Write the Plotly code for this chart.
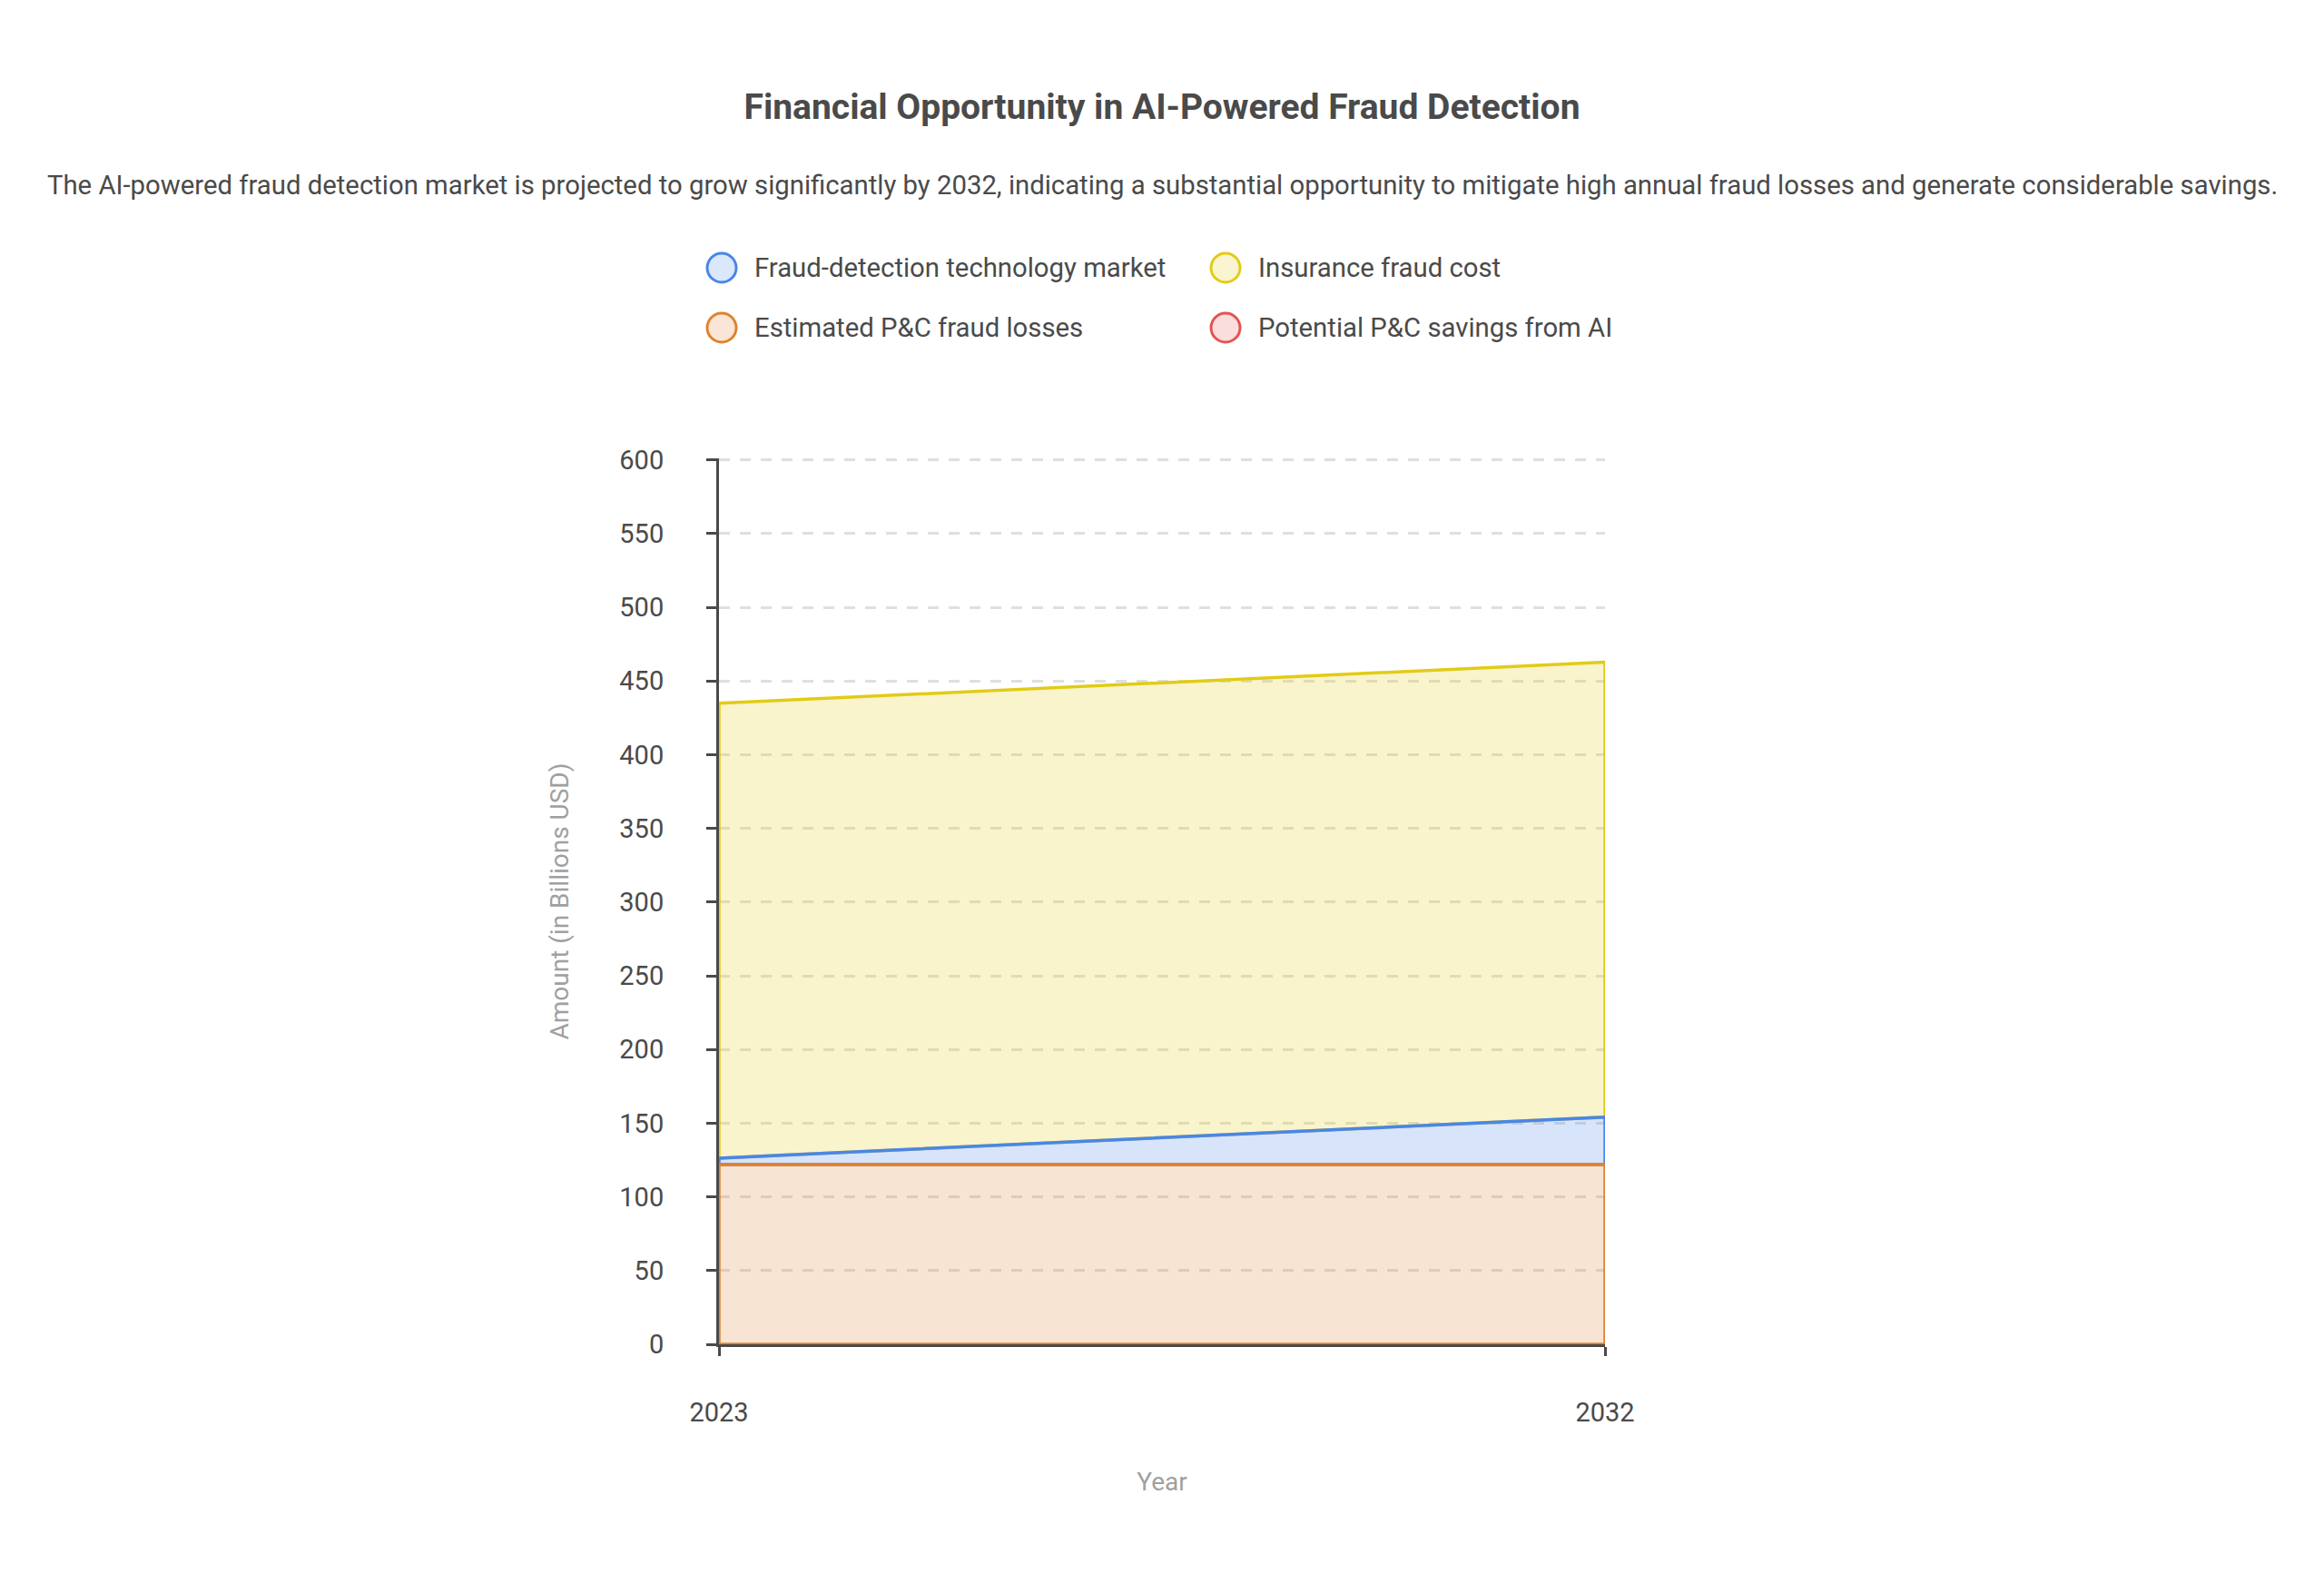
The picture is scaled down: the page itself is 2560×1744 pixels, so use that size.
import plotly.graph_objects as go

# data (billions USD)
years = [2023, 2032]
pc_fraud_losses = [122, 122]
fraud_tech_market = [4.3, 32.1]
insurance_fraud_cost = [308.6, 308.6]
pc_savings_ai = [None, None]  # listed in the legend, no visible area

legend_names = [
    'Fraud-detection technology market',
    'Insurance fraud cost',
    'Estimated P&C fraud losses',
    'Potential P&C savings from AI',
]
legend_colors = ['#4a86e8', '#e2cb16', '#e08231', '#e45454']

TEXT = '#4a4a4a'
FONT = 'Roboto'

# plot area in pixels (page body adds 8px offset)
W, H = 2560, 1744
L, R, T, B = 784, 1760, 497, 1473


def px(x):
    return (x - L) / (R - L)


def py(y):
    return (B - y) / (B - T)


def rgba(hex_color, a):
    h = hex_color.lstrip('#')
    r, g, b = int(h[0:2], 16), int(h[2:4], 16), int(h[4:6], 16)
    return f'rgba({r},{g},{b},{a})'


# stack order bottom -> top: P&C losses, tech market, insurance fraud cost
stack = [
    (pc_fraud_losses, legend_colors[2]),
    (fraud_tech_market, legend_colors[0]),
    (insurance_fraud_cost, legend_colors[1]),
]
bases = []
tops = []
base = [0] * len(years)
for vals, _ in stack:
    top = [b + v for b, v in zip(base, vals)]
    bases.append(base)
    tops.append(top)
    base = top

fig = go.Figure()

# draw top layer first so lower layers' outlines sit on the shared edges
for i in reversed(range(len(stack))):
    color = stack[i][1]
    xs = years + years[::-1] + [years[0]]
    ys = tops[i] + bases[i][::-1] + [tops[i][0]]
    fig.add_trace(go.Scatter(
        x=xs, y=ys,
        mode='lines',
        fill='toself',
        fillcolor=rgba(color, 0.22),
        line=dict(color=color, width=3.5),
        showlegend=False,
        hoverinfo='skip',
    ))

fig.add_trace(go.Scatter(x=years, y=pc_savings_ai, mode='lines',
                         line=dict(color=legend_colors[3]), showlegend=False))

# custom legend (circle icons)
shapes = []
annotations = []
legend_pos = [(787, 287), (1342, 287), (787, 353), (1342, 353)]
for name, color, (cx, cy) in zip(legend_names, legend_colors, legend_pos):
    shapes.append(dict(
        type='circle', xref='paper', yref='paper',
        xsizemode='pixel', ysizemode='pixel',
        xanchor=px(cx), yanchor=py(cy),
        x0=-16, x1=16, y0=-16, y1=16,
        fillcolor=rgba(color, 0.2),
        line=dict(color=color, width=3),
    ))
    annotations.append(dict(
        xref='paper', yref='paper', x=px(cx + 34), y=py(cy),
        xanchor='left', yanchor='middle', showarrow=False,
        text=name, font=dict(family=FONT, size=29.3, color=TEXT),
    ))

annotations.append(dict(
    xref='paper', yref='paper', x=px(1272), y=py(196),
    xanchor='center', yanchor='middle', showarrow=False,
    text='The AI-powered fraud detection market is projected to grow significantly by 2032, '
         'indicating a substantial opportunity to mitigate high annual fraud losses and '
         'generate considerable savings.',
    font=dict(family=FONT, size=29.3, color=TEXT),
))

fig.update_layout(
    width=W, height=H,
    margin=dict(l=L, r=W - R, t=T, b=H - B),
    paper_bgcolor='white',
    plot_bgcolor='white',
    title=dict(
        text='<b>Financial Opportunity in AI-Powered Fraud Detection</b>',
        x=px(1272), xref='paper', xanchor='center',
        y=1 - 109 / H, yanchor='middle',
        font=dict(family=FONT, size=39, color=TEXT),
    ),
    font=dict(family=FONT, color=TEXT),
    showlegend=False,
    shapes=shapes,
    annotations=annotations,
    xaxis=dict(
        range=[years[0], years[-1]],
        tickvals=years,
        ticks='outside', ticklen=10, tickwidth=3, tickcolor=TEXT,
        showline=True, linecolor=TEXT, linewidth=3,
        showgrid=False, zeroline=False,
        tickfont=dict(family=FONT, size=29, color=TEXT),
        ticklabelstandoff=37,
        title=dict(text='Year', standoff=51,
                   font=dict(family=FONT, size=28, color='#a0a0a0')),
        automargin=False,
    ),
    yaxis=dict(
        range=[0, 601],
        tickvals=list(range(0, 601, 50)),
        ticks='outside', ticklen=11, tickwidth=3, tickcolor=TEXT,
        showline=True, linecolor=TEXT, linewidth=3,
        showgrid=True, gridcolor='rgba(185,185,185,0.45)', gridwidth=3,
        griddash='12px,11px',
        zeroline=False,
        tickfont=dict(family=FONT, size=29, color=TEXT),
        ticklabelstandoff=41,
        title=dict(text='Amount (in Billions USD)', standoff=48,
                   font=dict(family=FONT, size=28, color='#a0a0a0')),
        automargin=False,
    ),
)

fig.write_html('out.html')
